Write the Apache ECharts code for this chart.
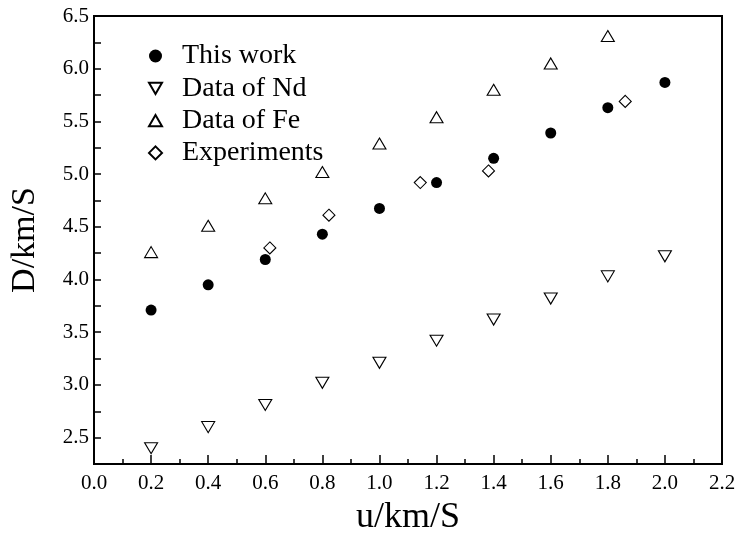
<!DOCTYPE html>
<html>
<head>
<meta charset="utf-8">
<script src="https://cdn.jsdelivr.net/npm/echarts@6/dist/echarts.min.js"></script>
<style>
  html, body { margin: 0; padding: 0; background: #fff; }
  #chart { width: 739px; height: 546px; }
</style>
</head>
<body>
<div id="chart"></div>
<script>
// u (km/S) values
const uGrid = [0.2, 0.4, 0.6, 0.8, 1.0, 1.2, 1.4, 1.6, 1.8, 2.0];
const uFe = [0.2, 0.4, 0.6, 0.8, 1.0, 1.2, 1.4, 1.6, 1.8];
const uExp = [0.616, 0.823, 1.143, 1.382, 1.861];

// D (km/S) values
const dThisWork = [3.71, 3.95, 4.19, 4.43, 4.675, 4.92, 5.15, 5.39, 5.63, 5.87];
const dNd = [2.40, 2.60, 2.81, 3.02, 3.21, 3.42, 3.62, 3.82, 4.03, 4.22];
const dFe = [4.26, 4.51, 4.77, 5.02, 5.29, 5.54, 5.80, 6.05, 6.31];
const dExp = [4.30, 4.61, 4.92, 5.03, 5.69];

const seriesNames = ['This work', 'Data of Nd', 'Data of Fe', 'Experiments'];

const pair = (xs, ys) => xs.map((x, i) => [x, ys[i]]);

const FONT = '"Liberation Serif", "DejaVu Serif", serif';
const downTri = 'path://M0,0 L10,0 L5,8.66 Z';
const upTri = 'path://M5,0 L10,8.66 L0,8.66 Z';
const diamond = 'path://M5,0 L10,5 L5,10 L0,5 Z';

const hollow = { color: '#fff', borderColor: '#000', borderWidth: 1.1, opacity: 1 };

const chart = echarts.init(document.getElementById('chart'));

chart.setOption({
  animation: false,
  backgroundColor: '#fff',
  grid: {
    left: 92, right: 17, top: 16, bottom: 82,
    show: true, borderColor: '#000', borderWidth: 2, backgroundColor: 'transparent'
  },
  legend: {
    orient: 'vertical',
    left: 143, top: 37,
    itemGap: 4.3,
    itemWidth: 13, itemHeight: 13,
    textStyle: { fontFamily: FONT, fontSize: 28, color: '#000', padding: [0, 0, 0, 15] },
    data: seriesNames
  },
  xAxis: {
    type: 'value',
    min: 0, max: 2.2, interval: 0.2,
    name: 'u/km/S',
    nameLocation: 'middle',
    nameGap: 36,
    nameTextStyle: { fontFamily: FONT, fontSize: 36, color: '#000' },
    axisLine: { lineStyle: { color: '#000', width: 2 } },
    axisTick: { inside: true, length: 9, lineStyle: { color: '#000', width: 1.5 } },
    minorTick: { show: true, splitNumber: 2, length: 5, lineStyle: { color: '#000', width: 1.5 } },
    axisLabel: {
      fontFamily: FONT, fontSize: 21, color: '#000', margin: 9,
      formatter: v => v.toFixed(1)
    },
    splitLine: { show: false }
  },
  yAxis: {
    type: 'value',
    min: 2.25, max: 6.5, interval: 0.25,
    name: 'D/km/S',
    nameLocation: 'middle',
    nameGap: 52,
    nameTextStyle: { fontFamily: FONT, fontSize: 34, color: '#000' },
    axisLine: { lineStyle: { color: '#000', width: 2 } },
    axisTick: { inside: true, length: 7, lineStyle: { color: '#000', width: 1.5 } },
    axisLabel: {
      fontFamily: FONT, fontSize: 21, color: '#000', margin: 5,
      formatter: v => (Math.abs(v * 2 - Math.round(v * 2)) < 1e-6 ? v.toFixed(1) : '')
    },
    splitLine: { show: false }
  },
  series: [
    {
      name: seriesNames[0], type: 'scatter',
      symbol: 'circle', symbolSize: 11,
      itemStyle: { color: '#000', opacity: 1 },
      data: pair(uGrid, dThisWork)
    },
    {
      name: seriesNames[1], type: 'scatter',
      symbol: downTri, symbolSize: [13, 11],
      itemStyle: hollow,
      data: pair(uGrid, dNd)
    },
    {
      name: seriesNames[2], type: 'scatter',
      symbol: upTri, symbolSize: [13, 11],
      itemStyle: hollow,
      data: pair(uFe, dFe)
    },
    {
      name: seriesNames[3], type: 'scatter',
      symbol: diamond, symbolSize: 12,
      itemStyle: hollow,
      data: pair(uExp, dExp)
    }
  ]
});
</script>
</body>
</html>
